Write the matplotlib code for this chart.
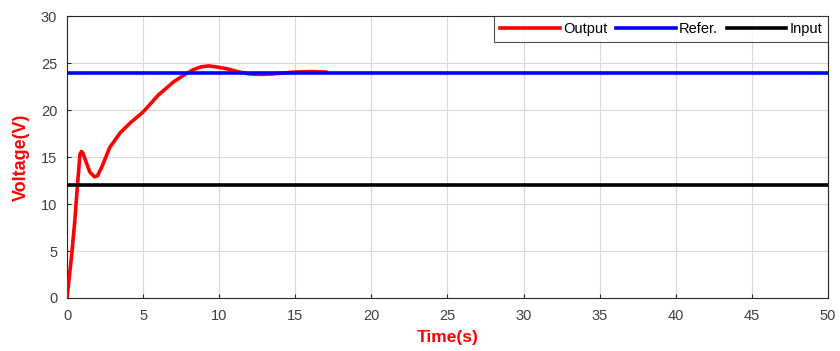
import matplotlib
matplotlib.use("Agg")
import matplotlib.pyplot as plt
import numpy as np

plt.rcParams['font.family'] = ['Liberation Sans', 'DejaVu Sans']

# Data
t_out = [0, 0.1, 0.3, 0.5, 0.7, 0.85, 0.95, 1.05, 1.25, 1.5, 1.8, 2.0, 2.3, 2.8, 3.5, 4.2, 5.0, 6.0, 7.0, 7.75, 8.3, 8.8, 9.3, 9.8, 10.5, 11.2, 12.0, 12.8, 13.5, 14.2, 15.0, 16.0, 17.0]
v_out = [0, 1.5, 4.5, 8.0, 12.3, 15.3, 15.6, 15.4, 14.5, 13.4, 12.9, 13.0, 14.0, 16.0, 17.6, 18.7, 19.8, 21.6, 23.0, 23.8, 24.3, 24.6, 24.7, 24.6, 24.4, 24.1, 23.85, 23.8, 23.85, 23.95, 24.05, 24.1, 24.05]
t_ref = [0, 50]
v_ref = [24, 24]
t_in = [0, 50]
v_in = [12, 12]

fig = plt.figure(figsize=(8.4, 3.51), dpi=100)
ax = fig.add_axes([0.0798, 0.151, 0.9057, 0.803])

ax.plot(t_out, v_out, color='#ff0000', lw=2.6, label='Output', zorder=3)
ax.plot(t_ref, v_ref, color='#0000ff', lw=2.6, label='Refer.', zorder=4)
ax.plot(t_in, v_in, color='#000000', lw=2.6, label='Input', zorder=4)

ax.set_xlim(0, 50)
ax.set_ylim(0, 30)
ax.set_xticks(np.arange(0, 51, 5))
ax.set_yticks(np.arange(0, 31, 5))
ax.grid(True, color='#d9d9d9', lw=0.8)
ax.set_axisbelow(True)
for s in ax.spines.values():
    s.set_color('#262626')
    s.set_linewidth(0.8)
ax.tick_params(direction='in', length=3, labelsize=10.5, colors='#262626')
ax.tick_params(axis='x', pad=8)
ax.tick_params(axis='y', pad=7)
ax.tick_params(axis='both', labelcolor='#404040')

ax.set_xlabel('Time(s)', color='#ff0000', fontsize=12.5, fontweight='bold', labelpad=5)
ax.set_ylabel('Voltage(V)', color='#ff0000', fontsize=13, fontweight='bold', labelpad=8)

leg = ax.legend(loc='upper right', ncol=3, fontsize=10.5, frameon=True, fancybox=False,
                edgecolor='#262626', handlelength=4.1, handletextpad=0.2, columnspacing=0.6,
                borderaxespad=0.0, borderpad=0.4)
leg.get_frame().set_linewidth(0.8)

fig.savefig('out.png', dpi=100)
